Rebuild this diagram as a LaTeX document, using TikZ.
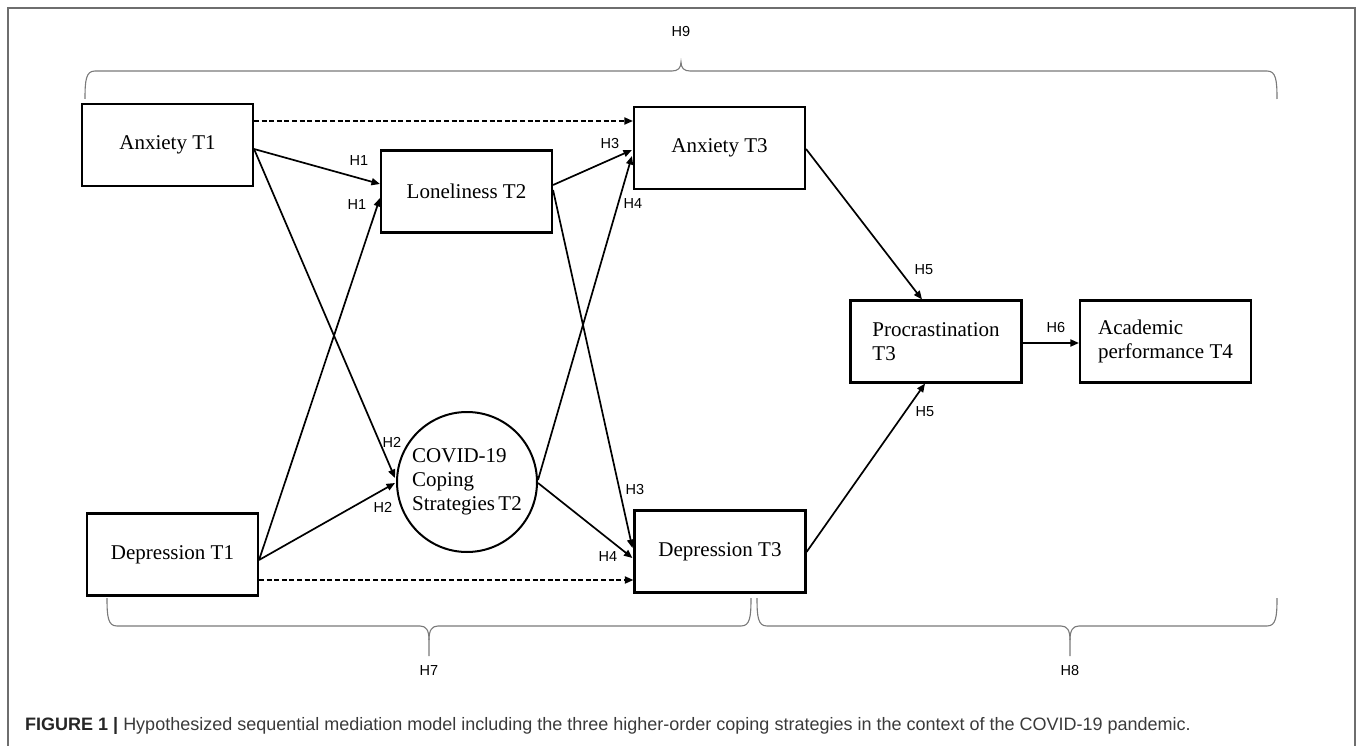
\documentclass[tikz,border=0pt]{standalone}
\usepackage{fontspec}
\setmainfont{Liberation Serif}
\newfontfamily\hsans{Liberation Sans}
\usetikzlibrary{arrows.meta,calc}
\definecolor{framegray}{HTML}{6E6E6E}
\definecolor{bracegray}{HTML}{7A7A7A}
\definecolor{captiongray}{HTML}{3A3A3A}
\tikzset{
  box/.style={draw=black, line width=2.1pt, rectangle, minimum width=171pt, minimum height=82pt, inner sep=0pt,
    font=\fontsize{21}{24}\selectfont, align=left},
  circ/.style={draw=black, line width=2pt, circle, minimum size=140pt, inner sep=0pt,
    font=\fontsize{21}{24}\selectfont, align=left},
  arr/.style={line width=1.7pt, -{Triangle[length=8.5pt,width=7pt]}},
  darr/.style={arr, dash pattern=on 5pt off 2.6pt},
  hlab/.style={font=\hsans\fontsize{14.5}{16}\selectfont, inner sep=0pt},
  brace/.style={draw=bracegray, line width=1.1pt},
}
\begin{document}
\begin{tikzpicture}[x=1pt,y=-1pt]
\useasboundingbox (0,0) rectangle (1358,746);
% frame
\draw[framegray, line width=1.6pt] (8,760) -- (8,8) -- (1355,8) -- (1355,760);

% nodes
\node[box] (A1) at (167.5,145) {Anxiety T1};
\node[box] (D1) at (172.5,554.5) {Depression T1};
\node[box] (L2) at (466.5,191.5) {Loneliness T2};
\node[circ] (C2) at (467,482) {COVID-19\\Coping\\Strategies\,T2};
\node[box] (A3) at (719.5,148) {Anxiety T3};
\node[box] (D3) at (720,551.5) {Depression T3};
\node[box] (P3) at (936,341.5) {Procrastination\\T3};
\node[box] (AP) at (1165.5,341.5) {Academic\\performance T4};

% dashed direct paths
\draw[darr] ($(A1.east)+(0,-24)$) -- ($(A3.west)+(0,-27)$);
\draw[darr] ($(D1.east)+(0,25.5)$) -- ($(D3.west)+(0,28.5)$);

% T1 -> T2
\draw[arr] ($(A1.east)+(0,4)$) -- ($(L2.west)+(0,-7.5)$);
\draw[arr] ($(D1.east)+(0,5.5)$) -- ($(L2.west)+(0,6.5)$);
\draw[arr] ($(A1.east)+(0,4)$) -- ($(C2.west)+(-1,-4)$);
\draw[arr] ($(D1.east)+(0,5.5)$) -- ($(C2.west)+(-1,1)$);

% T2 -> T3
\draw[arr] ($(L2.east)+(0,-6.5)$) -- ($(A3.west)+(-1,2)$);
\draw[arr] ($(C2.east)+(0,-2)$) -- ($(A3.west)+(-1,8)$);
\draw[arr] ($(L2.east)+(0,-1.5)$) -- ($(D3.west)+(-1,-3.5)$);
\draw[arr] ($(C2.east)+(0,1)$) -- ($(D3.west)+(-1,6.5)$);

% T3 -> procrastination -> performance
\draw[arr] ($(A3.east)+(0,1)$) -- ($(P3.north)+(-14,0)$);
\draw[arr] ($(D3.east)+(0,0.5)$) -- ($(P3.south)+(-11,0)$);
\draw[arr] ($(P3.east)+(0,1.5)$) -- ($(AP.west)+(0,1.5)$);

% hypothesis labels
\node[hlab] (h1a) at (359,161) {H1};
\node[hlab] (h1b) at (357,205) {H1};
\node[hlab] (h2a) at (392,442) {H2};
\node[hlab] (h2b) at (383,507) {H2};
\node[hlab] (h3a) at (610,144) {H3};
\node[hlab] (h4a) at (633,204) {H4};
\node[hlab] (h3b) at (635,490) {H3};
\node[hlab] (h4b) at (608,557) {H4};
\node[hlab] (h5a) at (924,270) {H5};
\node[hlab] (h5b) at (925,412) {H5};
\node[hlab] (h6) at (1056,328) {H6};
\node[hlab] (h9) at (681,32) {H9};
\node[hlab] (h7) at (429,671) {H7};
\node[hlab] (h8) at (1070,671) {H8};

% braces
\draw[brace] (85,99) .. controls (85,80) and (86,71) .. (95,71) -- (672,71)
  .. controls (678,71) and (681,68) .. (681,62)
  .. controls (681,68) and (684,71) .. (690,71) -- (1267,71)
  .. controls (1276,71) and (1277,80) .. (1277,99);
\draw[brace] (107,598) .. controls (107,617) and (108,626) .. (117,626) -- (420,626)
  .. controls (426,626) and (429,630) .. (429,640) -- (429,656);
\draw[brace] (429,640) .. controls (429,630) and (432,626) .. (438,626) -- (741,626)
  .. controls (750,626) and (751,617) .. (751,598);
\draw[brace] (757,598) .. controls (757,617) and (758,626) .. (767,626) -- (1061,626)
  .. controls (1067,626) and (1070,630) .. (1070,640) -- (1070,656);
\draw[brace] (1070,640) .. controls (1070,630) and (1073,626) .. (1079,626) -- (1267,626)
  .. controls (1276,626) and (1277,617) .. (1277,598);

% caption
\node[anchor=west, inner sep=0pt, text=captiongray, font=\hsans\fontsize{18}{20}\selectfont] (cap) at (25,726)
  {\textbf{\color{black!85}FIGURE 1 |} Hypothesized sequential mediation model including the three higher-order coping strategies in the context of the COVID-19 pandemic.};
\end{tikzpicture}
\end{document}
